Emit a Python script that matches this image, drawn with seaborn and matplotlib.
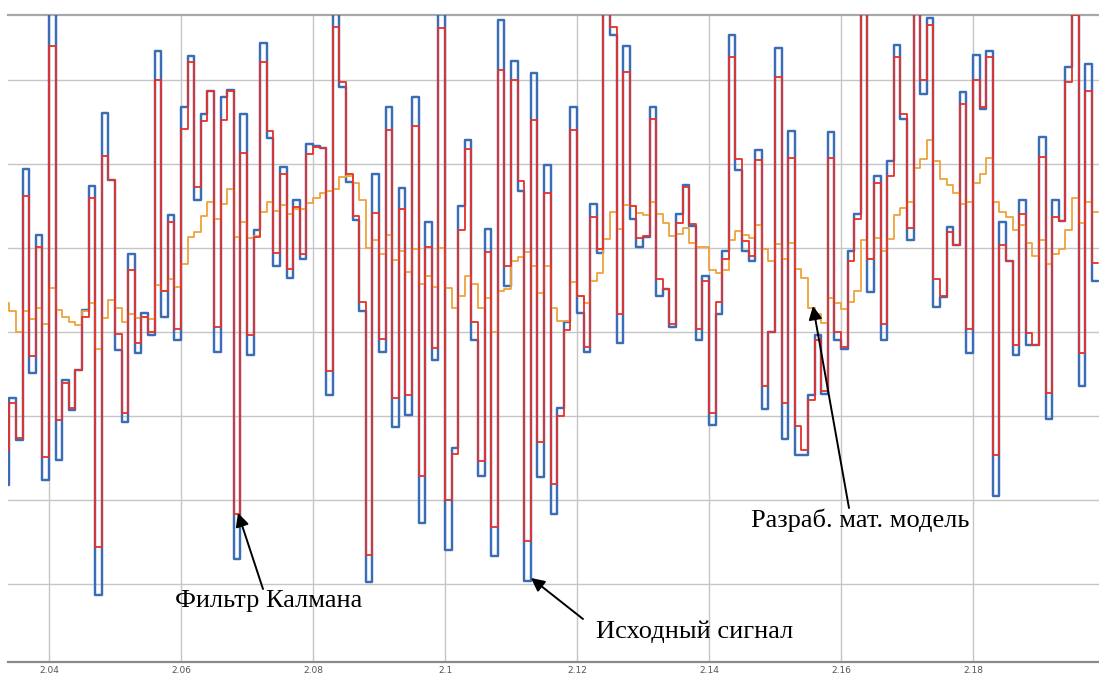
import numpy as np
import pandas as pd
import matplotlib
matplotlib.use("Agg")
import matplotlib.pyplot as plt
import seaborn as sns

# ---- data (sampled every 1 ms starting at t = 2.033 s) ----
t_start = 2.033
dt = 0.001

source_signal = [
    -1.82, -0.78, -1.29, 1.94, -0.49, 1.15, -1.76, 4.30, -1.52, -0.57,
    -0.93, -0.45, 0.26, 1.74, -3.13, 2.61, 1.81, -0.22, -1.07, 0.93,
    -0.25, 0.23, -0.04, 3.34, 0.18, 1.39, -0.09, 2.68, 3.29, 1.57,
    2.59, 2.87, -0.24, 2.80, 2.88, -2.70, 2.60, -0.27, 1.22, 3.44,
    2.31, 0.78, 1.97, 0.64, 1.57, 0.87, 2.24, 2.22, 2.19, -0.75,
    4.30, 2.92, 1.79, 1.33, 0.25, -2.98, 1.88, -0.24, 2.68, -1.13,
    1.71, -0.99, 2.80, -2.27, 1.31, -0.33, 3.78, -2.60, -1.38, 1.50,
    2.29, -0.10, -1.72, 1.23, -2.67, 3.72, 0.55, 3.23, 1.68, -2.96,
    3.08, -1.73, 1.99, -2.17, -0.91, 0.12, 2.68, 0.23, -0.24, 1.52,
    0.94, 4.50, 3.54, -0.13, 3.41, 1.35, 1.01, 1.13, 2.68, 0.43,
    0.51, 0.06, 1.41, 1.75, 1.26, -0.09, 0.67, -1.11, 0.22, 0.96,
    3.54, 1.93, 0.97, 0.85, 2.17, -0.92, 0.00, 3.38, -1.27, 2.39,
    -1.47, -1.47, -0.75, -0.04, -0.74, 2.38, -0.10, -0.20, 0.96, 1.40,
    4.40, 0.48, 1.86, -0.09, 2.04, 3.42, 2.53, 1.09, 4.50, 2.83,
    3.74, 0.30, 0.42, 1.25, 1.03, 2.86, -0.25, 3.30, 2.66, 3.34,
    -1.95, 1.31, 0.84, -0.27, 1.57, -0.16, -0.16, 2.32, -1.03, 1.57,
    1.32, 3.15, 3.85, -0.64, 3.19, 0.61,
]

kalman_filter = [
    -1.41, -0.84, -1.26, 1.62, -0.29, 1.01, -1.49, 3.41, -1.05, -0.61,
    -0.91, -0.45, 0.18, 1.59, -2.56, 2.09, 1.81, -0.02, -0.96, 0.74,
    -0.13, 0.18, 0.00, 3.00, 0.49, 1.31, 0.03, 2.42, 3.21, 1.73,
    2.51, 2.87, 0.06, 2.52, 2.87, -2.17, 2.13, -0.03, 1.13, 3.21,
    2.39, 0.94, 1.88, 0.75, 1.49, 0.93, 2.12, 2.20, 2.19, -0.47,
    3.63, 2.98, 1.88, 1.38, 0.36, -2.65, 1.42, -0.08, 2.41, -0.79,
    1.47, -0.75, 2.45, -1.71, 1.01, -0.19, 3.62, -2.00, -1.45, 1.21,
    2.18, 0.12, -1.54, 0.95, -2.32, 3.12, 0.78, 3.00, 1.80, -2.49,
    2.52, -1.31, 1.65, -1.81, -1.00, 0.02, 2.41, 0.43, -0.18, 1.37,
    0.99, 4.20, 3.63, 0.22, 3.09, 1.50, 1.12, 1.14, 2.53, 0.63,
    0.51, 0.09, 1.30, 1.73, 1.28, 0.03, 0.61, -0.96, 0.36, 0.87,
    3.27, 2.06, 1.08, 0.90, 2.05, -0.64, 0.00, 3.04, -0.85, 2.07,
    -1.12, -1.41, -0.81, -0.10, -0.70, 2.07, 0.00, -0.18, 0.84, 1.35,
    4.10, 0.87, 1.77, 0.09, 1.86, 3.27, 2.60, 1.24, 4.20, 3.00,
    3.66, 0.63, 0.43, 1.19, 1.03, 2.71, 0.03, 3.00, 2.68, 3.27,
    -1.46, 1.03, 0.84, -0.16, 1.40, -0.01, -0.16, 2.08, -0.73, 1.37,
    1.32, 2.98, 3.77, -0.25, 2.87, 0.82,
]

math_model = [
    0.34, 0.25, 0.00, 0.25, 0.16, 0.29, 0.10, 0.52, 0.26, 0.18,
    0.12, 0.08, 0.25, 0.34, -0.20, 0.17, 0.38, 0.29, 0.12, 0.22,
    0.17, 0.18, 0.15, 0.56, 0.49, 0.63, 0.54, 0.81, 1.13, 1.19,
    1.38, 1.55, 1.35, 1.52, 1.70, 1.13, 1.31, 1.12, 1.14, 1.43,
    1.55, 1.44, 1.51, 1.40, 1.46, 1.46, 1.53, 1.59, 1.65, 1.68,
    1.70, 1.85, 1.86, 1.77, 1.57, 1.00, 1.10, 0.93, 1.15, 0.86,
    0.97, 0.72, 0.99, 0.57, 0.67, 0.54, 1.00, 0.52, 0.29, 0.43,
    0.67, 0.57, 0.29, 0.40, 0.00, 0.49, 0.51, 0.85, 0.89, 0.95,
    0.78, 0.47, 0.78, 0.29, 0.13, 0.13, 0.60, 0.43, 0.35, 0.61,
    0.70, 1.11, 1.43, 1.23, 1.51, 1.50, 1.42, 1.39, 1.55, 1.41,
    1.30, 1.14, 1.17, 1.24, 1.06, 1.01, 1.01, 0.74, 0.70, 0.74,
    1.10, 1.20, 1.15, 1.12, 1.27, 0.99, 0.85, 1.05, 0.87, 1.06,
    0.75, 0.64, 0.29, 0.21, 0.11, 0.40, 0.34, 0.27, 0.36, 0.49,
    1.09, 0.87, 1.12, 0.96, 1.11, 1.39, 1.48, 1.55, 1.95, 2.06,
    2.29, 2.03, 1.82, 1.75, 1.66, 1.52, 1.55, 1.77, 1.88, 2.07,
    1.55, 1.43, 1.37, 1.21, 1.27, 1.06, 0.91, 1.10, 0.81, 0.93,
    0.99, 1.22, 1.59, 1.30, 1.55, 1.43,
]

x_tick_values = [2.04, 2.06, 2.08, 2.10, 2.12, 2.14, 2.16, 2.18]
x_tick_labels = ["2.04", "2.06", "2.08", "2.1", "2.12", "2.14", "2.16", "2.18"]
y_grid_values = [-3, -2, -1, 0, 1, 2, 3]

label_kalman = "Фильтр Калмана"
label_source = "Исходный сигнал"
label_model = "Разраб. мат. модель"

# ---- build a table (last sample held until the next tick) ----
n = len(source_signal)
time = t_start + dt * np.arange(n + 1)
def hold(v):
    return list(v) + [v[-1]]

df = pd.DataFrame({
    "t": np.round(time, 4),
    "source": hold(source_signal),
    "kalman": hold(kalman_filter),
    "model": hold(math_model),
})

# ---- figure ----
sns.set_theme(style="white")
plt.rcParams["font.family"] = ["DejaVu Sans"]

W, H = 1099, 677
fig = plt.figure(figsize=(W / 100, H / 100), dpi=100)
ax = fig.add_axes([8 / W, (H - 662) / H, (W - 8) / W, (662 - 15) / H])

blue = "#3a6db5"
red = "#e4322b"
orange = "#efa23a"

sns.lineplot(data=df, x="t", y="source", ax=ax, color=blue, lw=1.75,
             drawstyle="steps-post", estimator=None, sort=False, zorder=3)
sns.lineplot(data=df, x="t", y="model", ax=ax, color=orange, lw=1.3,
             drawstyle="steps-post", estimator=None, sort=False, zorder=4)
sns.lineplot(data=df, x="t", y="kalman", ax=ax, color=red, lw=1.3,
             drawstyle="steps-post", estimator=None, sort=False, zorder=5)

px_per_s = 6600.0
ax.set_xlim(2.04 - 41 / px_per_s, 2.04 + 1050 / px_per_s)
ax.set_ylim((332 - 662) / 84, (332 - 15) / 84)

ax.set_xticks(x_tick_values)
ax.set_xticklabels(x_tick_labels)
ax.set_yticks(y_grid_values)
ax.set_yticklabels([])
ax.set_xlabel("")
ax.set_ylabel("")
ax.grid(True, color="#c6c6c6", lw=1.0, zorder=0)
ax.set_axisbelow(True)
ax.tick_params(axis="y", length=0)
ax.tick_params(axis="x", labelsize=6.5, labelcolor="#555555", color="#8a8a8a",
               length=4, width=1, direction="in", pad=3)
for s in ("left", "right"):
    ax.spines[s].set_visible(False)
ax.spines["top"].set_color("#a8a8a8")
ax.spines["top"].set_linewidth(1.6)
ax.spines["bottom"].set_color("#8a8a8a")
ax.spines["bottom"].set_linewidth(1.6)

# ---- annotations ----
def px2data(x, y):
    return 2.04 + (x - 49) / px_per_s, (332 - y) / 84

serif = ["Liberation Serif", "DejaVu Serif"]
arrow = dict(arrowstyle="-|>", color="black", lw=1.4, mutation_scale=20,
             shrinkA=0, shrinkB=0)

for label, text_px, tail_px, tip_px in [
    (label_kalman, (269, 601), (263, 589), (238, 513)),
    (label_source, (695, 632), (583, 619), (531, 578)),
    (label_model, (860, 520), (849, 508), (813, 306)),
]:
    ax.annotate("", xy=px2data(*tip_px), xytext=px2data(*tail_px),
                arrowprops=arrow, zorder=7)
    ax.text(*px2data(*text_px), label, family=serif, fontsize=19,
            color="black", ha="center", va="center", zorder=8)

fig.savefig("out.png", dpi=100)
